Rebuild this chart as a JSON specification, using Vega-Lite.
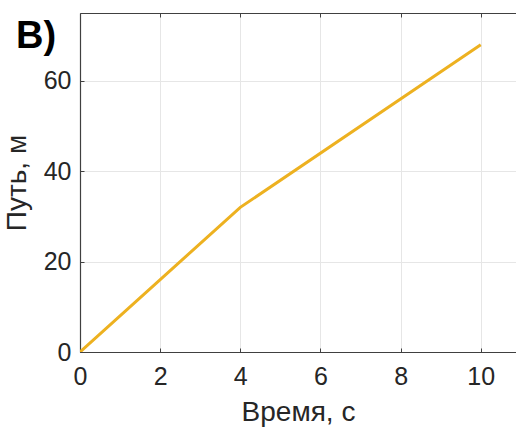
{
  "$schema": "https://vega.github.io/schema/vega-lite/v6.json",
  "width": 436,
  "height": 339,
  "autosize": {"type": "none"},
  "padding": {"left": 80, "top": 13, "right": 0, "bottom": 76},
  "background": "white",
  "config": {
    "view": {"stroke": null},
    "font": "Liberation Sans"
  },
  "title": {
    "text": "В)",
    "anchor": "start",
    "frame": "group",
    "orient": "top",
    "offset": 0,
    "baseline": "alphabetic",
    "dx": -64,
    "dy": 73,
    "fontSize": 38,
    "fontWeight": "bold",
    "font": "Liberation Sans",
    "color": "#000000"
  },
  "data": {
    "values": [
      {"t": 0, "s": 0},
      {"t": 4, "s": 32},
      {"t": 10, "s": 68}
    ]
  },
  "layer": [
    {
      "mark": {"type": "line", "color": "#EDB120", "strokeWidth": 3, "clip": true},
      "encoding": {
        "x": {
          "field": "t", "type": "quantitative",
          "scale": {"domain": [0, 10.88], "nice": false, "zero": false},
          "axis": {
            "orient": "bottom",
            "values": [0, 2, 4, 6, 8, 10],
            "title": "Время, с",
            "titleFontSize": 28, "titleFontWeight": "normal", "titleColor": "#262626",
            "titlePadding": 9,
            "labelFontSize": 25, "labelColor": "#262626", "labelPadding": 16,
            "tickSize": -4, "tickColor": "#404040",
            "domainColor": "#404040", "domainWidth": 1.2,
            "grid": true, "gridColor": "#e6e6e6",
            "labelFlush": false
          }
        },
        "y": {
          "field": "s", "type": "quantitative",
          "scale": {"domain": [0, 75], "nice": false},
          "axis": {
            "values": [0, 20, 40, 60],
            "title": "Путь, м",
            "titleFontSize": 28, "titleFontWeight": "normal", "titleColor": "#262626",
            "titlePadding": 12,
            "labelFontSize": 25, "labelColor": "#262626", "labelPadding": 13,
            "tickSize": -4, "tickColor": "#404040",
            "domainColor": "#404040", "domainWidth": 1.2,
            "grid": true, "gridColor": "#e6e6e6",
            "labelFlush": false
          }
        }
      }
    },
    {
      "mark": {"type": "line", "opacity": 0},
      "encoding": {
        "x": {
          "field": "t", "type": "quantitative",
          "scale": {"domain": [0, 10.88], "nice": false, "zero": false},
          "axis": {
            "orient": "top",
            "values": [0, 2, 4, 6, 8, 10],
            "title": null,
            "labels": false,
            "tickSize": -4, "tickColor": "#404040",
            "domainColor": "#404040", "domainWidth": 1.2,
            "grid": false
          }
        }
      }
    }
  ],
  "resolve": {"axis": {"x": "independent"}}
}
